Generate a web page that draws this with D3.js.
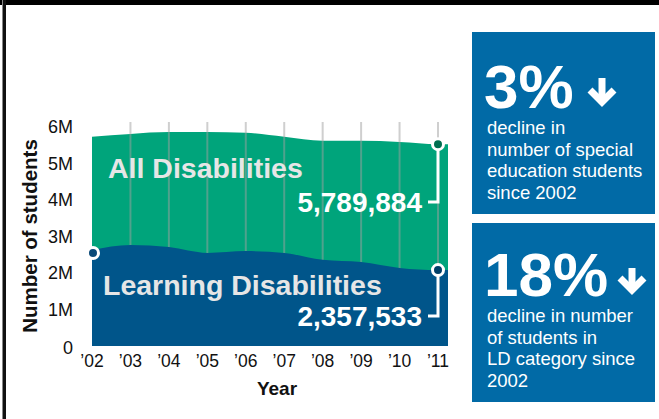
<!DOCTYPE html>
<html><head><meta charset="utf-8">
<script src="https://cdn.jsdelivr.net/npm/d3@7"></script>
<style>html,body{margin:0;padding:0;background:#fff;}svg{display:block;font-family:"Liberation Sans",Arial,sans-serif;}</style>
</head><body>
<svg id="chart" width="659" height="419"></svg>
<script>
const years = [2002,2003,2004,2005,2006,2007,2008,2009,2010,2011];
const yearLabels = ["’02","’03","’04","’05","’06","’07","’08","’09","’10","’11"];
const allDisabilities = [5730000,5810000,5860000,5860000,5840000,5730000,5620000,5620000,5590000,5530000];
const learningDisabilities = [2630000,2770000,2710000,2550000,2600000,2550000,2360000,2300000,2140000,2080000];
const yTicks = [0,1e6,2e6,3e6,4e6,5e6,6e6];
const yTickLabels = ["0","1M","2M","3M","4M","5M","6M"];
const seriesNames = ["All Disabilities","Learning Disabilities"];
const endLabels = ["5,789,884","2,357,533"];
const box1 = {big:"3%", lines:["decline in","number of special","education students","since 2002"]};
const box2 = {big:"18%", lines:["decline in number","of students in","LD category since","2002"]};

const svg = d3.select("#chart");
const GREEN = "#00a47b", BLUE = "#00558a", BOX = "#016aa6";

// frame
svg.append("rect").attr("x",0).attr("y",0).attr("width",659).attr("height",5).attr("fill","#000");
svg.append("rect").attr("x",3).attr("y",0).attr("width",3).attr("height",419).attr("fill","#111");
svg.append("rect").attr("x",2).attr("y",0).attr("width",1).attr("height",419).attr("fill","#888");

const x = d3.scaleLinear().domain([2002,2011]).range([92,438]);
const y = d3.scaleLinear().domain([0,6e6]).range([346,127]);
const ext = 10; // area runs slightly past last year

function pts(vals){
  const p = years.map((yr,i)=>({x:x(yr), v:vals[i]}));
  p.push({x:x(years[years.length-1])+ext, v:vals[vals.length-1]});
  return p;
}
const area = d3.area().x(d=>d.x).y0(y(0)).y1(d=>y(d.v)).curve(d3.curveMonotoneX);

svg.append("path").datum(pts(allDisabilities)).attr("d",area).attr("fill",GREEN);

// gridlines (above green, below blue)
svg.append("g").selectAll("line").data(years.slice(1)).join("line")
  .attr("x1",d=>x(d)).attr("x2",d=>x(d))
  .attr("y1",122).attr("y2",(d)=>y(learningDisabilities[years.indexOf(d)])+2)
  .attr("stroke","rgb(160,160,160)").attr("stroke-opacity",0.5).attr("stroke-width",2);

svg.append("path").datum(pts(learningDisabilities)).attr("d",area).attr("fill",BLUE);

// y axis labels
svg.append("g").selectAll("text").data(yTicks).join("text")
  .attr("x",73).attr("y",d=>y(d)+ (d===0?2:0)).attr("dy","0.36em")
  .attr("text-anchor","end").attr("font-size",18).attr("fill","#111")
  .text((d,i)=>yTickLabels[i]);

// x axis labels
svg.append("g").selectAll("text").data(years).join("text")
  .attr("x",d=>x(d)).attr("y",367).attr("text-anchor","middle")
  .attr("font-size",17.5).attr("fill","#111").text((d,i)=>yearLabels[i]);

svg.append("text").attr("x",277).attr("y",395).attr("text-anchor","middle")
  .attr("font-size",19).attr("font-weight","bold").attr("fill","#111").text("Year");
svg.append("text").attr("transform","translate(37,236) rotate(-90)").attr("text-anchor","middle")
  .attr("font-size",20.5).attr("font-weight","bold").attr("fill","#111").text("Number of students");

// series labels
svg.append("text").attr("x",108).attr("y",178).attr("font-size",28.5).attr("font-weight","bold")
  .attr("fill","#e6e6e6").text(seriesNames[0]);
svg.append("text").attr("x",103).attr("y",295).attr("font-size",28.5).attr("font-weight","bold")
  .attr("fill","#e6e6e6").text(seriesNames[1]);

// end markers and labels
const last = years.length-1;
const endDefs = [
  {v:allDisabilities[last], fill:"#006e50", ly:202, label:endLabels[0]},
  {v:learningDisabilities[last], fill:"#003f68", ly:316, label:endLabels[1]}
];
endDefs.forEach(e=>{
  const cx = x(years[last]), cy = y(e.v);
  svg.append("path").attr("d",`M${cx},${cy} V${e.ly} H${cx-10}`)
    .attr("fill","none").attr("stroke","#fff").attr("stroke-width",3);
  svg.append("circle").attr("cx",cx).attr("cy",cy).attr("r",5.5)
    .attr("fill",e.fill).attr("stroke","#fff").attr("stroke-width",3);
  svg.append("text").attr("x",cx-16).attr("y",e.ly).attr("dy","0.36em").attr("text-anchor","end")
    .attr("font-size",28).attr("font-weight","bold").attr("fill","#fff").text(e.label);
});
svg.append("circle").attr("cx",x(years[0])+1).attr("cy",y(learningDisabilities[0])+3).attr("r",5.5)
  .attr("fill","#0a4a78").attr("stroke","#fff").attr("stroke-width",3);

// info boxes
function arrow(cx, ty, by){
  svg.append("line").attr("x1",cx).attr("x2",cx).attr("y1",ty).attr("y2",by-6)
    .attr("stroke","#fff").attr("stroke-width",7);
  svg.append("polyline").attr("points",`${cx-12},${by-17} ${cx},${by-5} ${cx+12},${by-17}`)
    .attr("fill","none").attr("stroke","#fff").attr("stroke-width",7).attr("stroke-linejoin","miter");
}
function box(b, top, h, bigBase, arrowX, arrowTop, arrowBot, firstLine){
  svg.append("rect").attr("x",472).attr("y",top).attr("width",183).attr("height",h).attr("fill",BOX);
  svg.append("text").attr("x",484).attr("y",bigBase).attr("font-size",62).attr("font-weight","bold")
    .attr("fill","#fff").text(b.big);
  arrow(arrowX, arrowTop, arrowBot);
  svg.append("g").selectAll("text").data(b.lines).join("text")
    .attr("x",487).attr("y",(d,i)=>firstLine + i*21.6).attr("font-size",18.5).attr("fill","#fff").text(d=>d);
}
box(box1, 32, 182, 108, 602, 78, 107, 134);
box(box2, 223, 179, 296, 632, 268, 295, 322);
</script>
</body></html>
